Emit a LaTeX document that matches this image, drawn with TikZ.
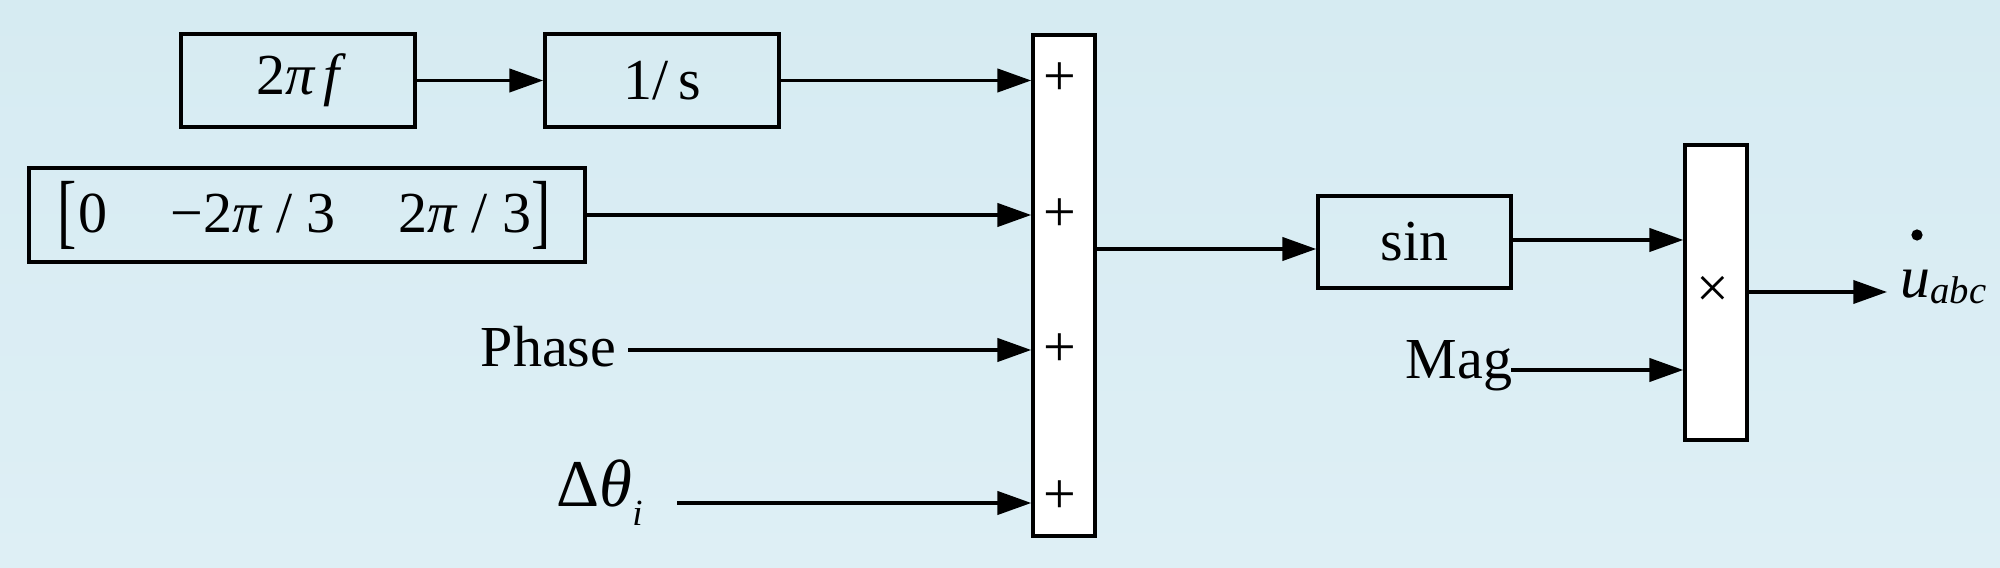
\documentclass[tikz,border=0pt]{standalone}
\usepackage{fontspec}
\usepackage{graphicx}
\setmainfont{Liberation Serif}
\usetikzlibrary{arrows.meta,calc}
\definecolor{bgtop}{RGB}{214,235,242}
\definecolor{bgbot}{RGB}{222,239,245}
\newcommand{\tallbr}[1]{\raisebox{-0.1em}{\scalebox{1}[1.42]{#1}}}
\begin{document}
\begin{tikzpicture}[x=0.01cm,y=-0.01cm,
  font=\fontsize{16.5}{19}\selectfont,
  blk/.style={draw, line width=1pt, inner sep=0pt},
  arr/.style={line width=0.95pt, -{Triangle[length=9.6pt,width=6.6pt]}},
  sgn/.style={inner sep=0pt}]
\shade[top color=bgtop,bottom color=bgbot] (0,0) rectangle (2000,568);
\useasboundingbox (0,0) rectangle (2000,568);

% blocks
\node[blk, minimum width=2.34cm, minimum height=0.93cm] (f2pi) at (298,80.5) {2{\itshape π\,f}};
\node[blk, minimum width=2.34cm, minimum height=0.93cm] (integ) at (662,80.5) {1/\,s};
\node[blk, minimum width=5.56cm, minimum height=0.94cm] (mat) at (307,215) {};
\node[inner sep=0pt] (matx) at (304,215)
  {\tallbr{[}\hspace{0.02cm}0\hspace{0.63cm}−2{\itshape π}\ /\ 3\hspace{0.63cm}2{\itshape π}\ /\ 3\tallbr{]}};
\node[blk, fill=white, minimum width=0.62cm, minimum height=5.01cm] (sum) at (1064,285.5) {};
\node[blk, minimum width=1.93cm, minimum height=0.92cm] (sin) at (1414.5,242) {sin};
\node[blk, fill=white, minimum width=0.62cm, minimum height=2.95cm] (prod) at (1716,292.5) {};

% signs
\node[sgn] (p1) at (1060,79) {+};
\node[sgn] (p2) at (1060,215) {+};
\node[sgn] (p3) at (1060,350) {+};
\node[sgn] (p4) at (1060,497) {+};
\node[sgn] (tm) at (1713,292) {×};

% labels
\node[anchor=base east, inner sep=0pt] (phase) at (617,367) {Phase};
\node[anchor=base west, inner sep=0pt] (dth) at (556,507)
  {\fontsize{19}{22}\selectfont Δ{\itshape θ}\raisebox{-0.27em}{\fontsize{10.5}{12}\selectfont\itshape i}};
\node[anchor=base east, inner sep=0pt] (mag) at (1513,379) {Mag};
\node[anchor=base west, inner sep=0pt] (uabc) at (1900,298)
  {{\fontsize{17}{20}\selectfont\itshape u}\raisebox{-0.1em}{\fontsize{11}{13}\selectfont\itshape abc}};
\fill (1917,235) circle[radius=1.6pt];

\coordinate (phs) at (628,350);
\coordinate (dtc) at (677,503);
\coordinate (magc) at (1511,370);
\coordinate (uend) at (1887,292);

% connectors
\draw[arr] (f2pi.east) -- (integ.west);
\draw[arr] (integ.east) -- (integ.east -| sum.west);
\draw[arr] (mat.east) -- (mat.east -| sum.west);
\draw[arr] (phs) -- (phs -| sum.west);
\draw[arr] (dtc) -- (dtc -| sum.west);
\draw[arr] ([yshift=-0.07cm]sin.west -| sum.east) -- ([yshift=-0.07cm]sin.west);
\draw[arr] ([yshift=0.02cm]sin.east) -- ([yshift=0.02cm]sin.east -| prod.west);
\draw[arr] (magc) -- (magc -| prod.west);
\draw[arr] (prod.east |- uend) -- (uend);
\end{tikzpicture}
\end{document}
